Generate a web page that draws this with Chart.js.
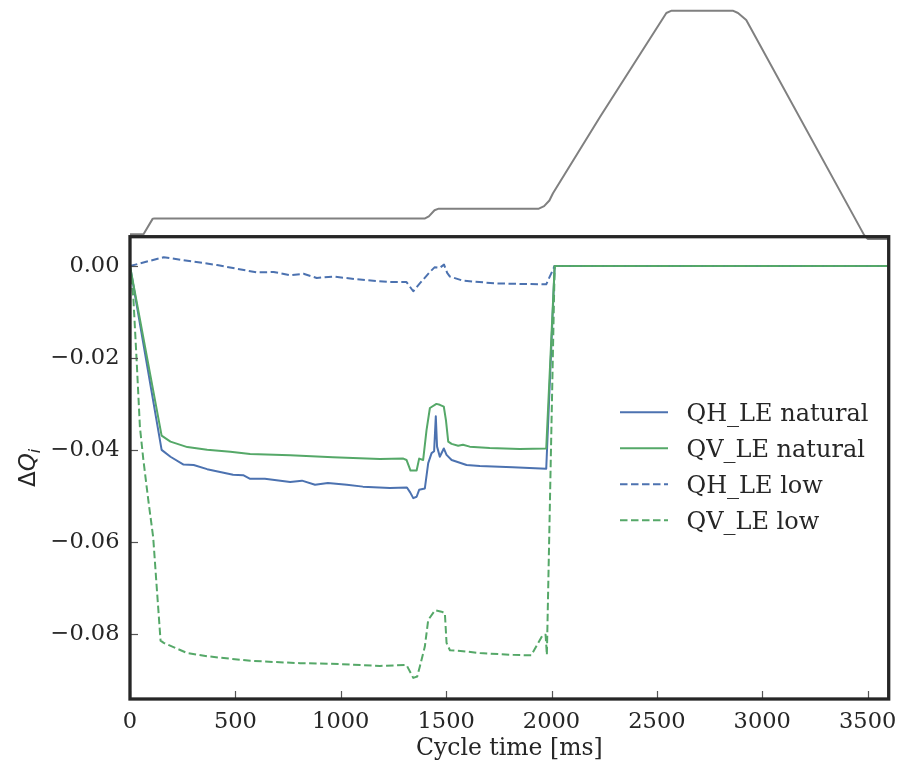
<!DOCTYPE html>
<html>
<head>
<meta charset="utf-8">
<style>
  html, body { margin: 0; padding: 0; background: #fff; }
</style>
<script src="https://cdn.jsdelivr.net/npm/chart.js@4.4.1/dist/chart.umd.min.js"></script>
</head>
<body>
<canvas id="qChart" width="901" height="763"></canvas>
<script>
// tick labels
const xTicks = [0, 500, 1000, 1500, 2000, 2500, 3000, 3500];
const yTicks = [0.00, -0.02, -0.04, -0.06, -0.08];

// QH_LE natural (blue solid)
const qhNatT = [0, 150, 192, 254, 302, 366, 489, 537, 570, 640, 760, 816, 878, 939, 1029, 1105, 1233, 1314, 1330, 1344, 1360, 1372, 1399, 1415, 1431, 1443, 1451, 1457, 1470, 1489, 1502, 1526, 1565, 1597, 1660, 1816, 1975, 2015, 3600];
const qhNatV = [0, -0.0400, -0.0415, -0.0432, -0.0433, -0.0442, -0.0454, -0.0455, -0.0463, -0.0463, -0.0470, -0.0467, -0.0476, -0.0472, -0.0476, -0.0480, -0.0483, -0.0482, -0.0493, -0.0505, -0.0502, -0.0487, -0.0484, -0.0429, -0.0407, -0.0403, -0.0327, -0.0393, -0.0415, -0.0397, -0.0411, -0.0422, -0.0428, -0.0433, -0.0435, -0.0438, -0.0441, 0, 0];

// QV_LE natural (green solid)
const qvNatT = [0, 150, 192, 272, 366, 476, 570, 760, 963, 1186, 1297, 1312, 1331, 1360, 1372, 1391, 1407, 1423, 1454, 1470, 1489, 1499, 1510, 1526, 1557, 1580, 1612, 1707, 1849, 1975, 2015, 3600];
const qvNatV = [0, -0.0369, -0.0382, -0.0394, -0.0400, -0.0404, -0.0409, -0.0412, -0.0416, -0.0420, -0.0419, -0.0422, -0.0445, -0.0445, -0.0419, -0.0422, -0.0357, -0.0309, -0.0300, -0.0302, -0.0306, -0.0335, -0.0382, -0.0387, -0.0391, -0.0389, -0.0393, -0.0396, -0.0398, -0.0397, 0, 0];

// QH_LE low (blue dashed)
const qhLowT = [0, 160, 413, 602, 681, 760, 823, 886, 965, 1076, 1233, 1312, 1344, 1375, 1423, 1445, 1470, 1490, 1505, 1518, 1580, 1739, 1959, 1975, 2015, 3600];
const qhLowV = [0, 0.0019, 0.0002, -0.0014, -0.0013, -0.0020, -0.0017, -0.0026, -0.0023, -0.0029, -0.0035, -0.0035, -0.0055, -0.0038, -0.0013, -0.0003, -0.0004, 0.0003, -0.0015, -0.0023, -0.0032, -0.0038, -0.0040, -0.0040, 0, 0];

// QV_LE low (green dashed)
const qvLowT = [0, 16, 32, 47, 63, 87, 110, 127, 145, 160, 271, 366, 571, 807, 1000, 1186, 1312, 1344, 1363, 1376, 1399, 1415, 1447, 1478, 1494, 1502, 1518, 1580, 1660, 1817, 1904, 1959, 1972, 1978, 2015, 3600];
const qvLowV = [0, -0.0070, -0.0210, -0.0350, -0.0420, -0.0510, -0.0590, -0.0700, -0.0815, -0.0820, -0.0842, -0.0849, -0.0859, -0.0864, -0.0866, -0.0870, -0.0868, -0.0896, -0.0893, -0.0870, -0.0828, -0.0770, -0.0749, -0.0752, -0.0755, -0.0820, -0.0836, -0.0838, -0.0842, -0.0846, -0.0847, -0.0802, -0.0802, -0.0846, 0, 0];

// cycle profile (grey, normalised, drawn above the axes)
const cycleT = [0, 64, 108, 116, 1400, 1418, 1445, 1465, 1940, 1965, 1990, 2007, 2230, 2545, 2570, 2860, 2885, 2924, 3483, 3500, 3600];
const cycleV = [0.011, 0.011, 0.080, 0.081, 0.081, 0.090, 0.117, 0.124, 0.124, 0.135, 0.160, 0.192, 0.530, 0.990, 1.000, 1.000, 0.990, 0.959, 0.008, -0.010, -0.010];

const BLUE = '#4C72B0';
const GREEN = '#55A868';
const DASH = [7.5, 3.5];

function pts(t, v) {
    return t.map((x, i) => ({ x: x, y: v[i] }));
}

function fmtY(v) {
    if (Math.abs(v) < 1e-9) return '0.00';
    return (v < 0 ? '\u2212' : '') + Math.abs(v).toFixed(2);
}

// frame, inward ticks, legend and y label
const decorPlugin = {
    id: 'decor',
    afterDatasetsDraw(chart) {
        const { ctx, chartArea: a, scales } = chart;
        ctx.save();
        ctx.strokeStyle = '#555555';
        ctx.lineWidth = 1.2;
        xTicks.forEach(t => {
            const px = Math.round(scales.x.getPixelForValue(t)) + 0.5;
            ctx.beginPath();
            ctx.moveTo(px, a.bottom);
            ctx.lineTo(px, a.bottom - 8);
            ctx.stroke();
        });
        yTicks.forEach(t => {
            const py = Math.round(scales.y.getPixelForValue(t)) + 0.5;
            ctx.beginPath();
            ctx.moveTo(a.left, py);
            ctx.lineTo(a.left + 8, py);
            ctx.stroke();
        });
        ctx.strokeStyle = '#262626';
        ctx.lineWidth = 3.3;
        ctx.strokeRect(a.left, a.top, a.right - a.left, a.bottom - a.top);
        ctx.restore();
    },
    afterDraw(chart) {
        const { ctx, chartArea: a } = chart;
        ctx.save();
        // legend
        const x0 = a.right - 268.7;
        const y0 = a.top + 175.6;
        const fs = 24;
        ctx.font = fs + "px 'DejaVu Serif', serif";
        ctx.textBaseline = 'alphabetic';
        ctx.fillStyle = '#262626';
        chart.data.datasets.filter(d => d.showInLegend).forEach((d, i) => {
            const y = y0 + i * 36;
            ctx.strokeStyle = d.borderColor;
            ctx.lineWidth = 2;
            ctx.setLineDash(d.borderDash || []);
            ctx.beginPath();
            ctx.moveTo(x0, y);
            ctx.lineTo(x0 + 48, y);
            ctx.stroke();
            ctx.setLineDash([]);
            ctx.fillText(d.label, x0 + 66.5, y + 0.35 * fs);
        });
        // y axis label: ΔQ_i
        const cy = (a.top + a.bottom) / 2;
        const f1 = "23px 'DejaVu Sans', sans-serif";
        const f2 = "italic 23px 'DejaVu Sans', sans-serif";
        const f3 = "italic 16px 'DejaVu Sans', sans-serif";
        ctx.font = f1; const wD = ctx.measureText('\u0394').width;
        ctx.font = f2; const wQ = ctx.measureText('Q').width;
        ctx.font = f3; const wi = ctx.measureText('i').width;
        const w = wD + wQ + wi;
        ctx.translate(35, cy);
        ctx.rotate(-Math.PI / 2);
        ctx.textAlign = 'left';
        let x = -w / 2;
        ctx.font = f1; ctx.fillText('\u0394', x, 0); x += wD;
        ctx.font = f2; ctx.fillText('Q', x, 0); x += wQ;
        ctx.font = f3; ctx.fillText('i', x, 5);
        ctx.restore();
    }
};

const tickFont = { family: "'DejaVu Serif', serif", size: 22.5 };

new Chart(document.getElementById('qChart').getContext('2d'), {
    type: 'line',
    data: {
        datasets: [
            { label: 'QH_LE natural', data: pts(qhNatT, qhNatV), borderColor: BLUE, order: 4, showInLegend: true },
            { label: 'QV_LE natural', data: pts(qvNatT, qvNatV), borderColor: GREEN, order: 3, showInLegend: true },
            { label: 'QH_LE low', data: pts(qhLowT, qhLowV), borderColor: BLUE, borderDash: DASH, order: 2, showInLegend: true },
            { label: 'QV_LE low', data: pts(qvLowT, qvLowV), borderColor: GREEN, borderDash: DASH, order: 1, showInLegend: true },
            { label: 'cycle', data: pts(cycleT, cycleV), borderColor: '#808080', yAxisID: 'y2', clip: false, order: 5 }
        ]
    },
    options: {
        responsive: false,
        animation: false,
        devicePixelRatio: 1,
        layout: { padding: { top: 236.7, right: 12.3, left: 0, bottom: 0 } },
        plugins: { legend: { display: false }, tooltip: { enabled: false } },
        elements: {
            point: { radius: 0 },
            line: { borderWidth: 2, tension: 0, fill: false, borderJoinStyle: 'round' }
        },
        scales: {
            x: {
                type: 'linear',
                min: 0,
                max: 3600,
                grid: { display: false, drawTicks: false },
                border: { display: false },
                afterBuildTicks: s => { s.ticks = xTicks.map(v => ({ value: v })); },
                ticks: {
                    padding: 10,
                    maxRotation: 0,
                    autoSkip: false,
                    color: '#262626',
                    font: tickFont,
                    callback: v => String(v)
                },
                title: {
                    display: true,
                    text: 'Cycle time [ms]',
                    color: '#262626',
                    font: { family: "'DejaVu Serif', serif", size: 23.5 },
                    padding: { top: 0, bottom: 0 }
                },
                afterFit: s => { s.height = 64; s.paddingLeft = 0; s.paddingRight = 0; }
            },
            y: {
                min: -0.0942,
                max: 0.00637,
                grid: { display: false, drawTicks: false },
                border: { display: false },
                afterBuildTicks: s => { s.ticks = yTicks.map(v => ({ value: v })); },
                ticks: {
                    padding: 10.5,
                    color: '#262626',
                    font: tickFont,
                    callback: v => fmtY(v)
                },
                afterFit: s => { s.width = 130; s.paddingTop = 0; s.paddingBottom = 0; }
            },
            y2: {
                display: false,
                min: -2.0456,
                max: 0
            }
        }
    },
    plugins: [decorPlugin]
});
</script>
</body>
</html>
